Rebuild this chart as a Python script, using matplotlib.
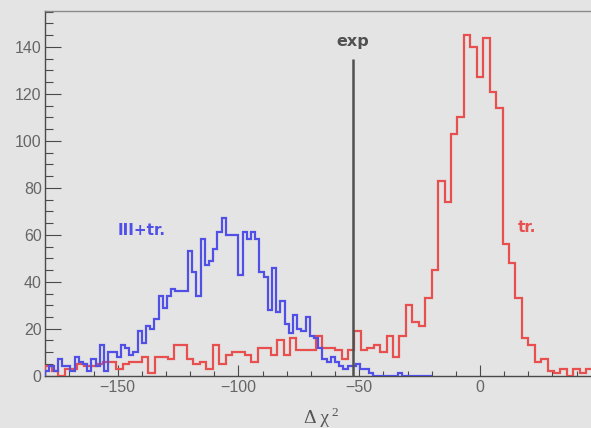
import numpy as np
import matplotlib
matplotlib.use("Agg")
import matplotlib.pyplot as plt
from matplotlib.ticker import MultipleLocator

# ---- histogram contents -------------------------------------------------
# "tr." sample: 85 bins of width 8/3 starting at -180
tr_start = -180.0
tr_width = 8.0 / 3.0
tr_counts = [4, 2, 0, 3, 3, 5, 4, 4, 5, 6,
             6, 3, 5, 6, 6, 8, 1, 8, 8, 7,
             13, 13, 7, 5, 6, 3, 13, 5, 9, 10,
             10, 9, 6, 12, 12, 9, 15, 9, 16, 11,
             11, 11, 17, 12, 12, 11, 7, 11, 19, 11,
             12, 13, 10, 17, 8, 17, 30, 23, 21, 33,
             45, 83, 74, 103, 110, 145, 140, 127, 144, 121,
             114, 56, 48, 33, 16, 13, 6, 7, 2, 1,
             3, 0, 3, 1, 3]

# "III+tr." sample: 92 bins between -180 and -20
iii_tr_range = (-180.0, -20.0)
iii_tr_counts = [2, 4, 2, 7, 4, 4, 2, 8, 6, 5,
                 2, 7, 4, 13, 2, 10, 10, 8, 13, 12,
                 9, 10, 19, 14, 21, 20, 24, 34, 29, 34,
                 37, 36, 36, 36, 53, 44, 34, 58, 47, 49,
                 54, 61, 67, 60, 60, 60, 43, 61, 58, 61,
                 58, 44, 42, 28, 46, 27, 32, 22, 18, 26,
                 20, 19, 25, 17, 16, 12, 7, 6, 8, 6,
                 4, 3, 4, 4, 5, 3, 3, 1, 0, 0,
                 0, 0, 0, 0, 1, 0, 0, 0, 0, 0,
                 0, 0]

exp_value = -52.7
exp_line_top = 135

x_major_ticks = [-150, -100, -50, 0]
y_major_ticks = [0, 20, 40, 60, 80, 100, 120, 140]

# ---- style ----------------------------------------------------------------
bg = "#e4e4e4"
axis_col = "#4a4a4a"
label_col = "#666666"
red = "#e84f4f"
blue = "#5050e6"

W, H = 591, 428
fig = plt.figure(figsize=(W / 100, H / 100), dpi=100, facecolor=bg)
left_px, bottom_px, top_px = 45.3, 375.7, 11.0
ax = fig.add_axes([left_px / W, 1 - bottom_px / H,
                   1 - left_px / W, (bottom_px - top_px) / H])
ax.set_facecolor(bg)

tr_edges = tr_start + tr_width * np.arange(len(tr_counts) + 1)
iii_edges = np.linspace(iii_tr_range[0], iii_tr_range[1], len(iii_tr_counts) + 1)

ax.stairs(tr_counts, tr_edges, baseline=0, fill=False, color=red, lw=1.6, zorder=3)
ax.stairs(iii_tr_counts, iii_edges, baseline=0, fill=False, color=blue, lw=1.6, zorder=4)

ax.vlines(exp_value, 0, exp_line_top, color="#505050", lw=1.8, zorder=5)

ax.set_xlim(-180, 45.98)
ax.set_ylim(0, 155.3)

ax.set_xticks(x_major_ticks)
ax.set_yticks(y_major_ticks)
ax.xaxis.set_minor_locator(MultipleLocator(10))
ax.yaxis.set_minor_locator(MultipleLocator(5))

ax.tick_params(axis="both", which="both", direction="in", color=axis_col,
               labelcolor=label_col, width=0.8, top=False, right=False)
ax.tick_params(axis="x", which="major", length=8, pad=3.0)
ax.tick_params(axis="x", which="minor", length=3.8)
ax.tick_params(axis="y", which="major", length=11.5, pad=2.6)
ax.tick_params(axis="y", which="minor", length=5.8)

for lab in ax.get_xticklabels() + ax.get_yticklabels():
    lab.set_fontfamily("Liberation Sans")
    lab.set_fontsize(11.5)

for side in ("left", "bottom"):
    ax.spines[side].set_color(axis_col)
    ax.spines[side].set_linewidth(1.0)
ax.spines["top"].set_color("#8a8a8a")
ax.spines["top"].set_linewidth(1.0)
ax.spines["right"].set_visible(False)

# labels
ax.text(-150, 62, "III+tr.", ha="left", va="center", color=blue,
        fontweight="bold", family="DejaVu Sans", fontsize=11)
ax.text(15.7, 62.9, "tr.", ha="left", va="center", color=red,
        fontweight="bold", family="DejaVu Sans", fontsize=11)
ax.text(exp_value, 142.1, "exp", ha="center", va="center", color="#505050",
        fontweight="bold", family="DejaVu Sans", fontsize=11.5)

# x axis title: Delta chi^2
fig.text(304 / W, 1 - 423.3 / H, "Δ χ", ha="left", va="baseline",
         color="#555555", family="Liberation Serif", fontsize=14)
fig.text(331 / W, 1 - 415.5 / H, "2", ha="left", va="baseline",
         color="#555555", family="Liberation Serif", fontsize=9.5)

fig.savefig("out.png", dpi=100, facecolor=bg)
